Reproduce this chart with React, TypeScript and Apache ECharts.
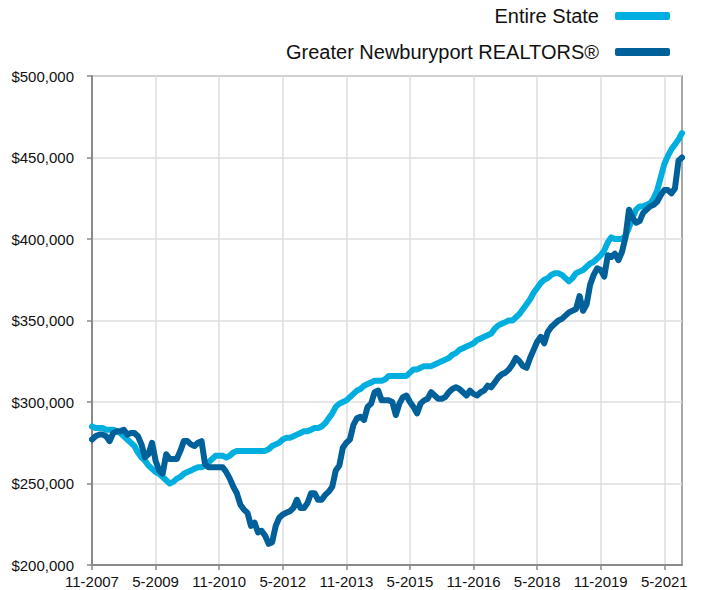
import React, { useEffect, useRef } from "react";
import * as echarts from "echarts";

const startMonth = 11;
const startYear = 2007;
const monthCount = 168;

const categories: string[] = [];
for (let k = 0; k < monthCount; k++) {
  const m0 = startMonth - 1 + k;
  const y = startYear + Math.floor(m0 / 12);
  const m = (m0 % 12) + 1;
  categories.push(`${m}-${y}`);
}

// values in thousands of dollars
const entireState = [
  285, 284, 284, 284, 283, 283, 283, 282, 281, 279, 277, 275, 273, 269, 266, 264,
  261, 259, 257, 256, 254, 252, 250, 251, 253, 254, 256, 257, 258, 259, 260, 260,
  261, 263, 265, 267, 267, 267, 266, 267, 269, 270, 270, 270, 270, 270, 270, 270,
  270, 270, 271, 273, 274, 275, 277, 278, 278, 279, 280, 281, 282, 282, 283, 284,
  284, 285, 287, 290, 293, 297, 299, 300, 301, 303, 305, 307, 308, 310, 311, 312,
  313, 313, 313, 314, 316, 316, 316, 316, 316, 316, 318, 320, 320, 321, 322, 322,
  322, 323, 324, 325, 326, 327, 329, 330, 332, 333, 334, 335, 336, 338, 339, 340,
  341, 342, 345, 347, 348, 349, 350, 350, 352, 354, 357, 360, 363, 367, 370, 373,
  375, 376, 378, 379, 379, 378, 376, 374, 376, 379, 380, 381, 383, 385, 386, 388,
  390, 393, 398, 401, 400, 400, 400, 402, 407, 413, 418, 420, 420, 421, 422, 425,
  430, 438, 446, 451, 455, 458, 461, 465,
];

const newburyport = [
  277, 279, 280, 280, 279, 276, 281, 282, 282, 283, 280, 281, 281, 279, 274, 266,
  268, 275, 264, 258, 256, 268, 265, 265, 265, 270, 276, 276, 274, 273, 275, 276,
  262, 260, 260, 260, 260, 260, 257, 253, 248, 244, 237, 234, 232, 224, 226, 220,
  221, 218, 213, 214, 224, 229, 231, 232, 233, 235, 240, 235, 235, 238, 244, 244,
  240, 240, 243, 245, 248, 258, 261, 272, 275, 277, 286, 290, 291, 289, 297, 299,
  306, 307, 301, 301, 301, 300, 292, 299, 303, 304, 300, 297, 293, 299, 301, 302,
  306, 304, 302, 302, 303, 306, 308, 309, 308, 306, 304, 307, 305, 304, 306, 307,
  310, 309, 312, 315, 317, 318, 320, 323, 327, 325, 322, 321, 327, 332, 337, 340,
  336, 343, 346, 348, 350, 351, 353, 355, 356, 357, 365, 356, 360, 372, 378, 382,
  381, 377, 390, 389, 391, 387, 392, 401, 418, 413, 410, 411, 416, 418, 420, 421,
  423, 427, 430, 430, 428, 431, 448, 450,
];

const seriesNames = ["Entire State", "Greater Newburyport REALTORS®"];
const seriesColors = ["#00AEDF", "#00619A"];

const FONT = "'Liberation Sans', Arial, Helvetica, sans-serif";

export default function App() {
  const ref = useRef<HTMLDivElement>(null);

  useEffect(() => {
    if (!ref.current) return;
    const chart = echarts.init(ref.current, undefined, { renderer: "svg" });
    const data = [entireState, newburyport];
    chart.setOption({
      animation: false,
      backgroundColor: "#ffffff",
      textStyle: { fontFamily: FONT },
      legend: {
        orient: "vertical",
        right: 32,
        top: 6,
        padding: 0,
        align: "right",
        itemWidth: 55,
        itemHeight: 8,
        itemGap: 16,
        icon: "roundRect",
        textStyle: {
          fontFamily: FONT,
          fontSize: 20,
          color: "#111111",
          lineHeight: 20,
          padding: [0, 11, 0, 0],
        },
        data: seriesNames,
      },
      grid: {
        left: 92,
        right: 20,
        top: 76,
        bottom: 25,
        show: true,
        borderColor: "#8a8a8a",
        borderWidth: 1.5,
        backgroundColor: "transparent",
      },
      xAxis: {
        type: "category",
        data: categories,
        boundaryGap: false,
        axisLine: { lineStyle: { color: "#8a8a8a", width: 2 } },
        axisTick: {
          interval: 17,
          length: 5,
          lineStyle: { color: "#8a8a8a", width: 1.5 },
        },
        axisLabel: {
          interval: 17,
          fontFamily: FONT,
          fontSize: 15,
          color: "#111111",
          margin: 9,
        },
        splitLine: {
          show: true,
          interval: 17,
          lineStyle: { color: "#dedede", width: 1.5 },
        },
      },
      yAxis: {
        type: "value",
        min: 200,
        max: 500,
        interval: 50,
        axisLine: { show: true, lineStyle: { color: "#8a8a8a", width: 2 } },
        axisTick: { show: true, length: 5, lineStyle: { color: "#8a8a8a", width: 1.5 } },
        axisLabel: {
          fontFamily: FONT,
          fontSize: 15,
          color: "#111111",
          margin: 18,
          formatter: (v: number) => "$" + v + ",000",
        },
        splitLine: { show: true, lineStyle: { color: "#dedede", width: 1.5 } },
      },
      series: seriesNames.map((name, idx) => ({
        name,
        type: "line",
        data: data[idx],
        showSymbol: false,
        symbol: "none",
        smooth: false,
        color: seriesColors[idx],
        lineStyle: { width: 6, color: seriesColors[idx], join: "round", cap: "round" },
        z: 2 + idx,
      })),
    });
    return () => chart.dispose();
  }, []);

  return (
    <div
      ref={ref}
      style={{ position: "fixed", left: 0, top: 0, width: 702, height: 590 }}
    />
  );
}
